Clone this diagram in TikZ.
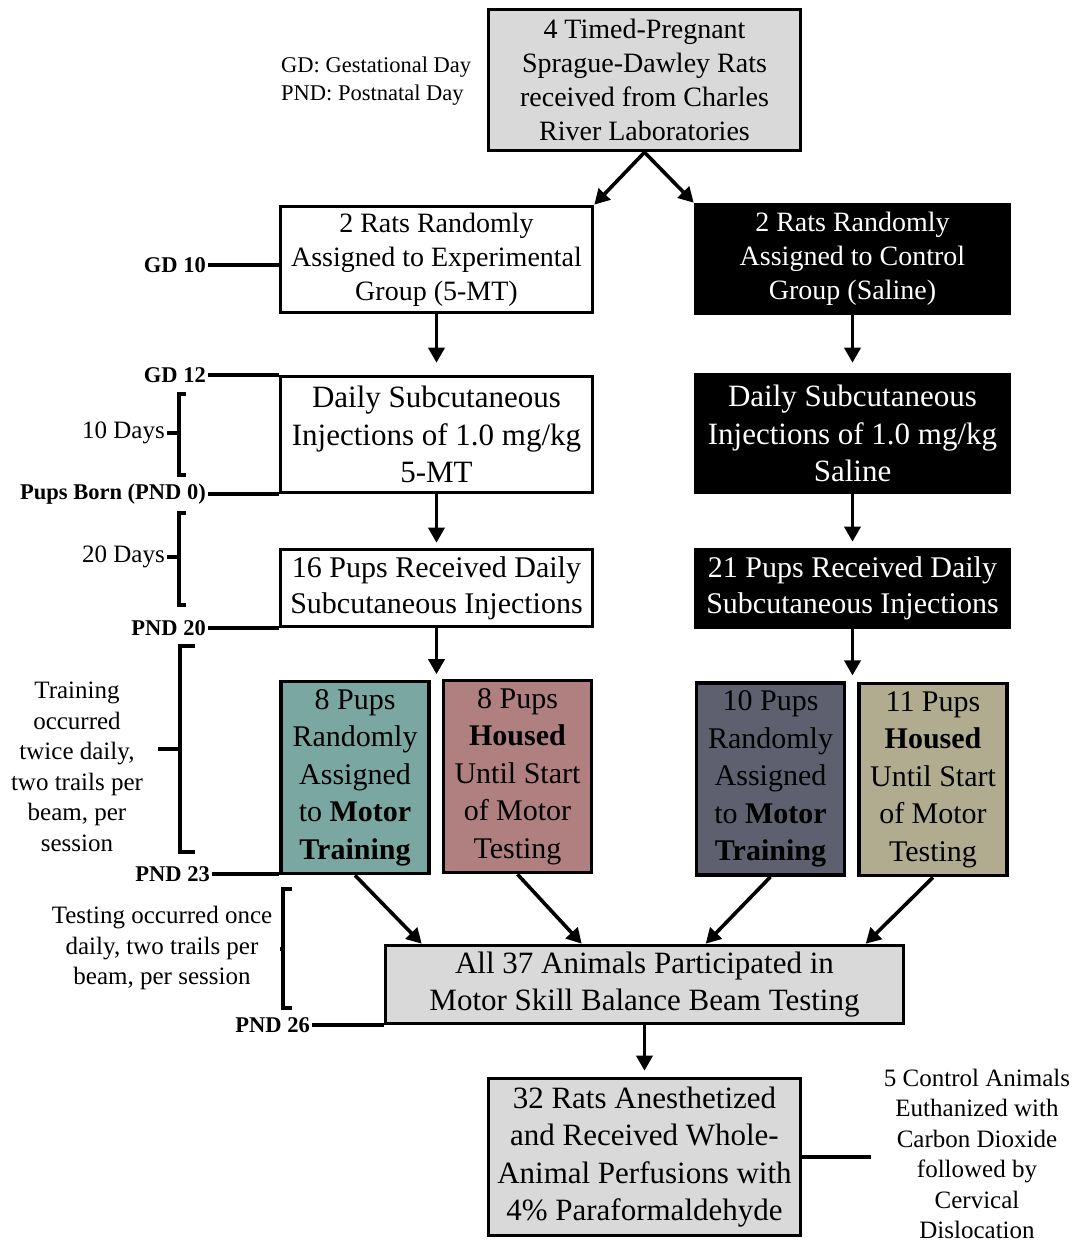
\documentclass[tikz,border=0pt]{standalone}
\usepackage{fontspec}
\setmainfont{Liberation Serif}
\usetikzlibrary{arrows.meta,calc}

\definecolor{boxgray}{HTML}{D9D9D9}
\definecolor{mtteal}{HTML}{7AA7A2}
\definecolor{mtrose}{HTML}{B07F80}
\definecolor{ctslate}{HTML}{5E6070}
\definecolor{ctkhaki}{HTML}{B1AC8F}

\tikzset{
  box/.style={draw, line width=3.6pt, align=center, inner sep=0pt, text=black},
  darkbox/.style={box, fill=black, text=white},
  smallbox/.style={box, minimum width=148pt, minimum height=192pt, font=\fontsize{30}{37.5}\selectfont},
  arr/.style={line width=3.6pt, -{Triangle[length=15pt,width=16pt]}},
  tline/.style={line width=3.6pt},
  tlabel/.style={font=\fontsize{22.5}{26}\selectfont\bfseries, inner sep=2pt, anchor=east},
  sidenote/.style={font=\fontsize{25}{30.5}\selectfont, align=center, inner sep=0pt}
}

\begin{document}
\begin{tikzpicture}[x=1pt,y=-1pt]
\useasboundingbox (0,0) rectangle (1076,1245);

% main boxes
\node[box, fill=boxgray, minimum width=312pt, minimum height=141pt, font=\fontsize{28}{34}\selectfont] (rats) at (644.5,80)
  {4 Timed-Pregnant\\Sprague-Dawley Rats\\received from Charles\\River Laboratories};
\node[box, minimum width=312pt, minimum height=106pt, font=\fontsize{28}{34}\selectfont] (exp1) at (436.5,259.5)
  {2 Rats Randomly\\Assigned to Experimental\\Group (5-MT)};
\node[darkbox, minimum width=314pt, minimum height=109pt, font=\fontsize{28}{34}\selectfont] (ctl1) at (852.5,259)
  {2 Rats Randomly\\Assigned to Control\\Group (Saline)};
\node[box, minimum width=312pt, minimum height=116pt, font=\fontsize{31}{37.5}\selectfont] (exp2) at (436.5,434.5)
  {Daily Subcutaneous\\Injections of 1.0 mg/kg\\5-MT};
\node[darkbox, minimum width=314pt, minimum height=118pt, font=\fontsize{31}{37.5}\selectfont] (ctl2) at (852.5,433.5)
  {Daily Subcutaneous\\Injections of 1.0 mg/kg\\Saline};
\node[box, minimum width=312pt, minimum height=77pt, font=\fontsize{30}{36}\selectfont] (exp3) at (436.5,588)
  {16 Pups Received Daily\\Subcutaneous Injections};
\node[darkbox, minimum width=314pt, minimum height=78pt, font=\fontsize{30}{36}\selectfont] (ctl3) at (852.5,588.5)
  {21 Pups Received Daily\\Subcutaneous Injections};

% groups
\node[smallbox, fill=mtteal] (teal) at (355,777.5) {8 Pups\\Randomly\\Assigned\\to \textbf{Motor}\\\textbf{Training}};
\node[smallbox, fill=mtrose] (rose) at (517.5,776.5) {8 Pups\\\textbf{Housed}\\Until Start\\of Motor\\Testing};
\node[smallbox, fill=ctslate] (slate) at (770.5,779) {10 Pups\\Randomly\\Assigned\\to \textbf{Motor}\\\textbf{Training}};
\node[smallbox, fill=ctkhaki] (khaki) at (933,779.5) {11 Pups\\\textbf{Housed}\\Until Start\\of Motor\\Testing};

\node[box, fill=boxgray, minimum width=518pt, minimum height=78pt, font=\fontsize{31}{37}\selectfont] (test) at (644.5,984.5)
  {All 37 Animals Participated in\\Motor Skill Balance Beam Testing};
\node[box, fill=boxgray, minimum width=312pt, minimum height=157pt, font=\fontsize{31}{37.5}\selectfont] (final) at (644.5,1157)
  {32 Rats Anesthetized\\and Received Whole-\\Animal Perfusions with\\4\% Paraformaldehyde};
\node[sidenote, inner sep=13pt] (euth) at (977,1154)
  {5 Control Animals\\Euthanized with\\Carbon Dioxide\\followed by\\Cervical\\Dislocation};

% arrows
\draw[arr] (rats.south) -- (exp1.north east);
\draw[arr] (rats.south) -- (ctl1.north west);
\draw[arr, shorten >=12pt] (exp1.south) -- (exp2.north);
\draw[arr, shorten >=10pt] (ctl1.south) -- (ctl2.north);
\draw[arr, shorten >=5pt] (exp2.south) -- (exp3.north);
\draw[arr, shorten >=6pt] (ctl2.south) -- (ctl3.north);
\coordinate (splitexp) at ($(teal.north east)!0.5!(rose.north west)$);
\coordinate (splitctl) at ($(slate.north east)!0.5!(khaki.north west)$);
\draw[arr, shorten >=5pt] (exp3.south) -- (exp3.south |- splitexp);
\draw[arr, shorten >=6pt] (ctl3.south) -- (ctl3.south |- splitctl);
\draw[arr] (teal.south) -- ($(test.north west)+(38,0)$);
\draw[arr] (rose.south) -- ($(test.north west)+(198,0)$);
\draw[arr] (slate.south) -- ($(test.north west)+(322,0)$);
\draw[arr] (khaki.south) -- ($(test.north west)+(482,0)$);
\draw[arr, shorten >=6pt] (test.south) -- (final.north);
\draw[tline] (final.east) -- (final.east -| euth.west);

% legend
\node[font=\fontsize{22.5}{28}\selectfont, align=left, anchor=west, inner sep=0pt] (legend) at (281,81)
  {GD: Gestational Day\\PND: Postnatal Day};

% timeline
\node[tlabel] (gd10) at (208,265) {GD 10};
\node[tlabel] (gd12) at (208,375) {GD 12};
\node[tlabel] (pnd0) at (208,494) {Pups Born (PND 0)};
\node[tlabel] (pnd20) at (208,628) {PND 20};
\node[tlabel] (pnd23) at (212,874) {PND 23};
\node[tlabel] (pnd26) at (312,1025) {PND 26};
\draw[tline] (gd10.east) -- (gd10.east -| exp1.west);
\draw[tline] (gd12.east) -- (gd12.east -| exp2.west);
\draw[tline] (pnd0.east) -- (pnd0.east -| exp2.west);
\draw[tline] (pnd20.east) -- (pnd20.east -| exp3.west);
\draw[tline] (pnd23.east) -- (pnd23.east -| teal.west);
\draw[tline] (pnd26.east) -- (pnd26.east -| test.west);

% brackets
\draw[tline] (186,394) -- (179,394) -- (179,475) -- (186,475);
\coordinate (days10) at (179,433);
\node[sidenote, anchor=east, inner sep=2pt] (lab10) at (167,433) {10 Days};
\draw[tline] (lab10.east) -- (days10);

\draw[tline] (186,513) -- (179,513) -- (179,605) -- (186,605);
\coordinate (days20) at (179,557);
\node[sidenote, anchor=east, inner sep=2pt] (lab20) at (167,557) {20 Days};
\draw[tline] (lab20.east) -- (days20);

\draw[tline] (195,646) -- (180,646) -- (180,852) -- (195,852);
\coordinate (trainmid) at (180,749);
\coordinate (traintick) at (158,749);
\node[sidenote] (labtrain) at (77,767)
  {Training\\occurred\\twice daily,\\two trails per\\beam, per\\session};
\draw[tline] (traintick) -- (trainmid);

\draw[tline] (292,889) -- (283,889) -- (283,1008) -- (292,1008);
\coordinate (testmid) at (283,949);
\node[sidenote] (labtest) at (162,948)
  {Testing occurred once\\daily, two trails per\\beam, per session};
\draw[tline] ($(labtest.east)+(8,1)$) -- (testmid);

\end{tikzpicture}
\end{document}
